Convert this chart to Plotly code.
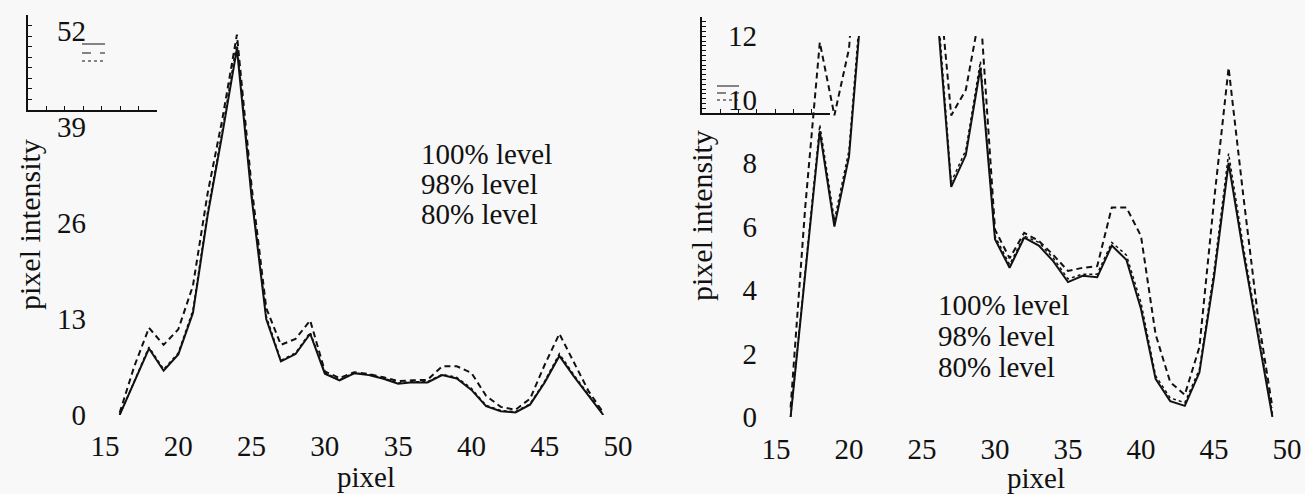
import plotly.graph_objects as go

# ---------------- data ----------------
pixel = list(range(16, 50))
level_100 = [0, 4.6, 9.0, 6.0, 8.2, 13.8, 27, 38, 49.6, 29.5, 13.0, 7.25, 8.25, 11.0,
             5.6, 4.7, 5.65, 5.4, 4.9, 4.25, 4.45, 4.4, 5.4, 4.95, 3.4, 1.2, 0.5, 0.35,
             1.4, 4.4, 8.0, 5.2, 2.6, 0]
level_98 = [0.3, 6.6, 11.8, 9.5, 11.6, 17.5, 30, 40, 51.5, 31, 14.5, 9.5, 10.3, 12.8,
            5.9, 5.0, 5.8, 5.55, 5.1, 4.6, 4.7, 4.75, 6.6, 6.6, 5.7, 2.6, 1.1, 0.7,
            2.2, 6.8, 11.0, 7.0, 3.2, 0.3]
level_80 = [0, 4.7, 9.2, 6.2, 8.4, 14.2, 27.5, 38.5, 50.5, 30, 13.4, 7.4, 8.4, 11.2,
            5.7, 4.8, 5.7, 5.5, 5.0, 4.35, 4.5, 4.5, 5.5, 5.1, 3.6, 1.3, 0.6, 0.45,
            1.5, 4.6, 8.3, 5.4, 2.8, 0.1]

x_ticks = [15, 20, 25, 30, 35, 40, 45, 50]
left_y_ticks = [0, 13, 26, 39, 52]
right_y_ticks = [0, 2, 4, 6, 8, 10, 12]
legend_labels = ["100% level", "98% level", "80% level"]
x_title = "pixel"
y_title = "pixel intensity"

# ---------------- layout helpers ----------------
W, H = 1305, 494
FONT = "Liberation Serif, Times New Roman, serif"
INK = "#111111"
BG = "#f8f8f8"


def px(x):
    return x / W


def py(y):
    return 1 - y / H


series = [
    (level_100, dict(color=INK, width=2, dash="solid")),
    (level_98, dict(color=INK, width=2, dash="6px,4px")),
    (level_80, dict(color=INK, width=1.5, dash="dot")),
]

fig = go.Figure()
for xa, ya in (("x", "y"), ("x2", "y2")):
    for vals, line in series:
        fig.add_trace(go.Scatter(x=pixel, y=vals, mode="lines", line=line,
                                 xaxis=xa, yaxis=ya, showlegend=False,
                                 hoverinfo="skip"))
# empty traces so the small leftover legend frames are drawn
for xa, ya in (("x3", "y3"), ("x4", "y4")):
    fig.add_trace(go.Scatter(x=[], y=[], xaxis=xa, yaxis=ya, showlegend=False))

tickfont = dict(family=FONT, size=29, color=INK)
base = dict(showgrid=False, zeroline=False, showline=False, ticks="",
            tickfont=tickfont, automargin=False)
frame = dict(showgrid=False, zeroline=False, showline=True, linecolor=INK,
             linewidth=1.5, ticks="inside", ticklen=4, tickwidth=1,
             tickcolor=INK, showticklabels=False, dtick=1, fixedrange=True,
             automargin=False)

fig.update_layout(
    width=W, height=H, autosize=False,
    margin=dict(l=0, r=0, t=0, b=0, pad=0, autoexpand=False),
    paper_bgcolor=BG, plot_bgcolor="rgba(0,0,0,0)",
    showlegend=False,
    font=dict(family=FONT, color=INK),
    xaxis=dict(base, domain=[px(105), px(618)], range=[15, 50], tickvals=x_ticks,
               anchor="y", ticklabelstandoff=11),
    yaxis=dict(base, domain=[py(415), py(31)], range=[0, 52], tickvals=left_y_ticks,
               anchor="x", ticklabelstandoff=18),
    xaxis2=dict(base, domain=[px(776), px(1287)], range=[15, 50], tickvals=x_ticks,
                anchor="y2", ticklabelstandoff=12),
    yaxis2=dict(base, domain=[py(417), py(36)], range=[0, 12], tickvals=right_y_ticks,
                anchor="x2", ticklabelstandoff=18),
    xaxis3=dict(frame, domain=[px(28), px(157)], range=[0, 7], anchor="y3"),
    yaxis3=dict(frame, domain=[py(110), py(15)], range=[0, 9], anchor="x3"),
    xaxis4=dict(frame, domain=[px(702), px(830)], range=[0, 7], anchor="y4"),
    yaxis4=dict(frame, domain=[py(113), py(17)], range=[0, 20], anchor="x4"),
)

annotations = []
# legend texts
for i, lab in enumerate(legend_labels):
    annotations.append(dict(text=lab, x=px(419), y=py(154 + 30 * i), xref="paper",
                            yref="paper", xanchor="left", yanchor="middle",
                            showarrow=False, font=dict(family=FONT, size=29, color=INK)))
    annotations.append(dict(text=lab, x=px(936), y=py(305 + 31 * i), xref="paper",
                            yref="paper", xanchor="left", yanchor="middle",
                            showarrow=False, font=dict(family=FONT, size=29, color=INK)))
# axis titles
for cx, cy in ((366, 477), (1036, 478)):
    annotations.append(dict(text=x_title, x=px(cx), y=py(cy), xref="paper", yref="paper",
                            xanchor="center", yanchor="middle", showarrow=False,
                            font=dict(family=FONT, size=29, color=INK)))
for cx, cy in ((29, 225), (701, 216)):
    annotations.append(dict(text=y_title, x=px(cx), y=py(cy), xref="paper", yref="paper",
                            xanchor="center", yanchor="middle", textangle=-90,
                            showarrow=False, font=dict(family=FONT, size=30, color=INK)))
fig.update_layout(annotations=annotations)

# legend line samples beside the top tick labels
shapes = []
for (x0, x1, ys) in ((82, 105, (44, 53, 61)), (717, 739, (86, 93, 100))):
    for yy, dash in zip(ys, ("solid", "dash", "dot")):
        shapes.append(dict(type="line", xref="paper", yref="paper",
                           x0=px(x0), x1=px(x1), y0=py(yy), y1=py(yy),
                           line=dict(color=INK, width=1, dash=dash)))
fig.update_layout(shapes=shapes)

fig.write_html("out.html", config={"displayModeBar": False},
               post_script="document.body.style.margin='0';")
